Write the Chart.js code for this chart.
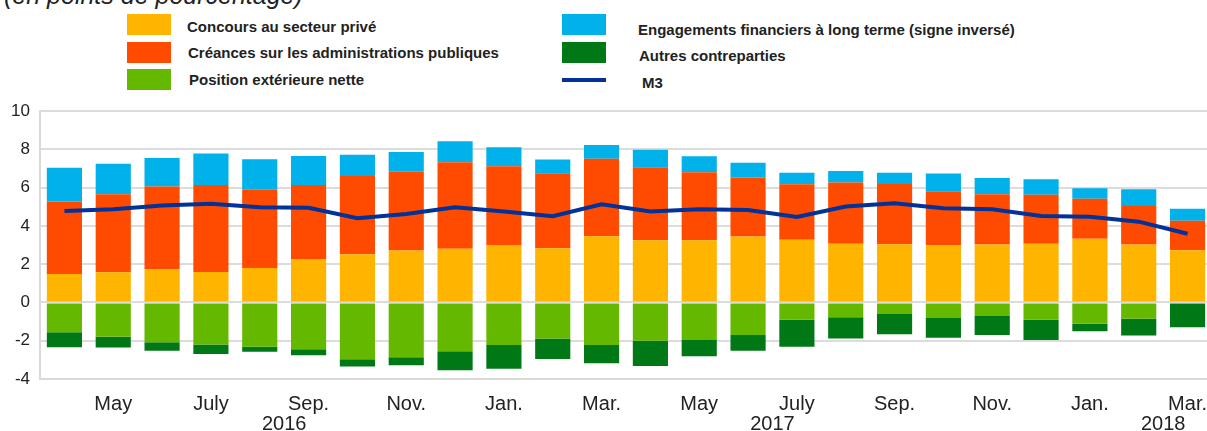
<!DOCTYPE html>
<html>
<head>
<meta charset="utf-8">
<script src="https://cdn.jsdelivr.net/npm/chart.js@4.4.1/dist/chart.umd.min.js"></script>
<style>
  html, body { margin: 0; padding: 0; background: #fff; overflow: hidden; }
  body { width: 1207px; height: 431px; position: relative; font-family: "Liberation Sans", Arial, sans-serif; }
  #wrap { position: absolute; left: 0; top: 0; width: 1212px; height: 431px; }
  .title { position: absolute; left: 4px; top: -17px; font-size: 25px; line-height: 25px; font-style: italic; color: #222; white-space: nowrap; }
  .lg { position: absolute; font-size: 15px; line-height: 17px; font-weight: bold; color: #222; white-space: nowrap; }
  .box { position: absolute; width: 44px; height: 21px; }
  .ln { position: absolute; width: 44px; height: 4px; background: #003299; }
</style>
</head>
<body>
<div class="title">(en points de pourcentage)</div>

<div class="box" style="left:127px;top:14px;background:#FFB400"></div>
<div class="lg" style="left:187px;top:18px">Concours au secteur privé</div>
<div class="box" style="left:127px;top:42px;background:#FF4B00"></div>
<div class="lg" style="left:188px;top:44px">Créances sur les administrations publiques</div>
<div class="box" style="left:127px;top:69px;background:#65B800"></div>
<div class="lg" style="left:189px;top:71px">Position extérieure nette</div>

<div class="box" style="left:562px;top:14px;background:#00B1EA"></div>
<div class="lg" style="left:638px;top:21px">Engagements financiers à long terme (signe inversé)</div>
<div class="box" style="left:562px;top:42px;background:#007816"></div>
<div class="lg" style="left:639px;top:47px">Autres contreparties</div>
<div class="ln" style="left:562px;top:78px"></div>
<div class="lg" style="left:642px;top:74px">M3</div>

<div id="wrap"><canvas id="chart"></canvas></div>

<script>
// mois d'avril 2016 à mars 2018
const months = ['Apr.', 'May', 'June', 'July', 'Aug.', 'Sep.', 'Oct.', 'Nov.', 'Dec.', 'Jan.', 'Feb.', 'Mar.',
                'Apr.', 'May', 'June', 'July', 'Aug.', 'Sep.', 'Oct.', 'Nov.', 'Dec.', 'Jan.', 'Feb.', 'Mar.'];
const years = ['2016', '2017', '2018'];
const yearIndex = [5, 15, 23];

const concours = [1.49, 1.58, 1.73, 1.59, 1.80, 2.27, 2.52, 2.71, 2.80, 2.97, 2.83, 3.46,
                  3.25, 3.25, 3.44, 3.27, 3.07, 3.04, 2.99, 3.02, 3.07, 3.32, 3.02, 2.73];
const creances = [3.78, 4.07, 4.32, 4.55, 4.08, 3.87, 4.09, 4.11, 4.52, 4.14, 3.92, 4.04,
                  3.81, 3.55, 3.08, 2.90, 3.19, 3.15, 2.82, 2.63, 2.55, 2.10, 2.02, 1.54];
const positionExt = [-1.56, -1.79, -2.08, -2.20, -2.32, -2.45, -2.97, -2.86, -2.55, -2.22, -1.89, -2.22,
                     -2.00, -1.96, -1.70, -0.91, -0.77, -0.60, -0.81, -0.71, -0.90, -1.12, -0.85, 0];
const engagements = [1.76, 1.59, 1.50, 1.64, 1.60, 1.51, 1.10, 1.04, 1.10, 1.00, 0.71, 0.73,
                     0.91, 0.84, 0.78, 0.60, 0.60, 0.59, 0.92, 0.85, 0.82, 0.55, 0.87, 0.62];
const autres = [-0.78, -0.57, -0.44, -0.49, -0.25, -0.31, -0.38, -0.42, -0.99, -1.24, -1.06, -0.96,
                -1.32, -0.85, -0.82, -1.40, -1.12, -1.06, -1.04, -0.99, -1.06, -0.38, -0.88, -1.30];
const m3 = [4.77, 4.87, 5.06, 5.16, 4.97, 4.94, 4.40, 4.62, 4.97, 4.75, 4.50, 5.13,
            4.75, 4.87, 4.83, 4.47, 5.01, 5.18, 4.92, 4.87, 4.52, 4.48, 4.22, 3.59];

const FONT = '"Liberation Sans", Arial, sans-serif';

function barSet(label, data, color) {
    return {
        type: 'bar',
        label: label,
        data: data,
        backgroundColor: color,
        borderWidth: 0,
        barPercentage: 0.72,
        categoryPercentage: 1,
        stack: 'contrib',
        order: 1
    };
}

// années sous les mois
const yearLabels = {
    id: 'yearLabels',
    afterDraw(chart) {
        const ctx = chart.ctx;
        const x = chart.scales.x;
        ctx.save();
        ctx.font = '20px ' + FONT;
        ctx.fillStyle = '#222';
        ctx.textAlign = 'center';
        ctx.textBaseline = 'alphabetic';
        years.forEach((y, i) => {
            const k = yearIndex[i];
            const px = (x.getPixelForValue(k) + x.getPixelForValue(k - 1)) / 2;
            ctx.fillText(y, px, 430);
        });
        ctx.restore();
    }
};

new Chart(document.getElementById('chart').getContext('2d'), {
    data: {
        labels: months,
        datasets: [
            {
                type: 'line',
                label: 'M3',
                data: m3,
                borderColor: '#003299',
                borderWidth: 4,
                pointRadius: 0,
                tension: 0,
                stack: 'm3',
                order: 0
            },
            barSet('Concours au secteur privé', concours, '#FFB400'),
            barSet('Créances sur les administrations publiques', creances, '#FF4B00'),
            barSet('Position extérieure nette', positionExt, '#65B800'),
            barSet('Engagements financiers à long terme (signe inversé)', engagements, '#00B1EA'),
            barSet('Autres contreparties', autres, '#007816')
        ]
    },
    options: {
        responsive: true,
        maintainAspectRatio: false,
        animation: false,
        layout: { padding: { top: 111, left: 0, right: 0, bottom: 0 } },
        plugins: {
            legend: { display: false },
            tooltip: { enabled: false }
        },
        scales: {
            x: {
                stacked: true,
                offset: true,
                grid: { display: false },
                border: { display: true, color: '#d9d9d9', width: 2 },
                ticks: {
                    autoSkip: false,
                    maxRotation: 0,
                    padding: 5,
                    color: '#222',
                    font: { family: FONT, size: 20 },
                    callback: function(v, i) { return i % 2 === 1 ? months[i] : ''; }
                },
                afterFit(scale) { scale.height = 52; }
            },
            y: {
                stacked: true,
                min: -4,
                max: 10,
                ticks: {
                    stepSize: 2,
                    padding: 10,
                    color: '#222',
                    font: { family: FONT, size: 17 }
                },
                grid: { color: '#dcdcdc', lineWidth: 2, drawTicks: false },
                border: { display: true, color: '#d9d9d9', width: 2 },
                afterFit(scale) { scale.width = 40; }
            }
        }
    },
    plugins: [yearLabels]
});
</script>
</body>
</html>
